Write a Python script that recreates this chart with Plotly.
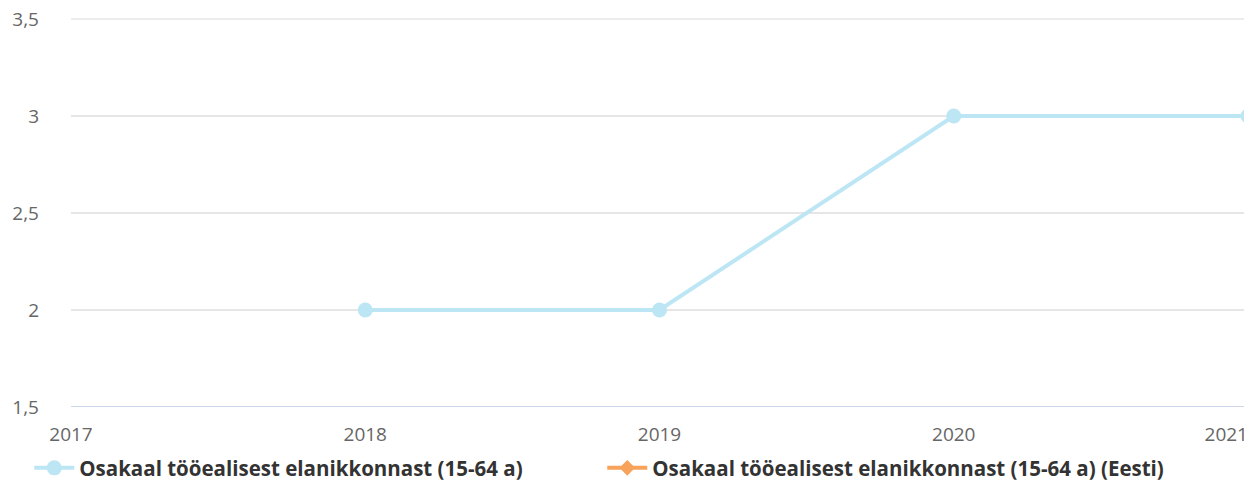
import plotly.graph_objects as go

years = [2017, 2018, 2019, 2020, 2021]
year_labels = ["2017", "2018", "2019", "2020", "2021"]
series1_name = "Osakaal tööealisest elanikkonnast (15-64 a)"
series1 = [None, 2, 2, 3, 3]
series2_name = "Osakaal tööealisest elanikkonnast (15-64 a) (Eesti)"
series2 = [None, None, None, None, None]
y_ticks = [1.5, 2, 2.5, 3, 3.5]
y_labels = ["1,5", "2", "2,5", "3", "3,5"]

FONT = "Open Sans, Noto Sans, sans-serif"

fig = go.Figure()
fig.add_trace(go.Scatter(
    x=years, y=series1, name=series1_name, mode="lines+markers",
    line=dict(color="#bde6f5", width=4),
    marker=dict(symbol="circle", size=15, color="#bde6f5"),
    cliponaxis=False,
))
fig.add_trace(go.Scatter(
    x=years, y=series2, name=series2_name, mode="lines+markers",
    xaxis="x2",
    line=dict(color="#f7a35c", width=4),
    marker=dict(symbol="diamond", size=12, color="#f7a35c"),
))

tick_common = dict(
    range=[years[0], years[-1]],
    showgrid=False, zeroline=False, showline=False, ticks="",
    tickfont=dict(size=19, color="#666666"), automargin=False,
    ticklabelstandoff=14, fixedrange=True,
)

# page body has an 8px margin, so the figure is sized to fit the 1252x497 window
fig.update_layout(
    width=1244, height=489,
    margin=dict(l=63, r=4, t=11, b=90, autoexpand=False),
    paper_bgcolor="white", plot_bgcolor="white",
    font=dict(family=FONT, size=19, color="#555555"),
    showlegend=True,
    legend=dict(
        orientation="h", xref="container", yref="container",
        x=0.0171, y=0.0593, xanchor="left", yanchor="middle",
        entrywidth=518, entrywidthmode="pixels",
        font=dict(family=FONT, size=20.5, color="#333333", weight="bold"),
        itemwidth=40,
    ),
    xaxis=dict(tickvals=years[:-1], ticktext=year_labels[:-1], **tick_common),
    # last label is right-aligned at the edge, as in the original
    xaxis2=dict(tickvals=years[-1:], ticktext=year_labels[-1:], overlaying="x",
                side="bottom", anchor="y", ticklabelposition="outside left",
                **tick_common),
    yaxis=dict(
        range=[1.5, 3.5], tickvals=y_ticks, ticktext=y_labels,
        showgrid=True, gridcolor="#e6e6e6", gridwidth=1.5, zeroline=False,
        showline=False, ticks="", ticklabelstandoff=31, automargin=False,
        ticklabeloverflow="allow",
        tickfont=dict(size=19, color="#666666"),
    ),
)
fig.add_shape(type="line", xref="paper", yref="paper", x0=0, x1=1, y0=1, y1=1,
              line=dict(color="#e6e6e6", width=1.5), layer="below")
fig.add_shape(type="line", xref="paper", yref="y", x0=0, x1=1, y0=1.5, y1=1.5,
              line=dict(color="#ccd6eb", width=2), layer="above")

fig.write_html("out.html")
